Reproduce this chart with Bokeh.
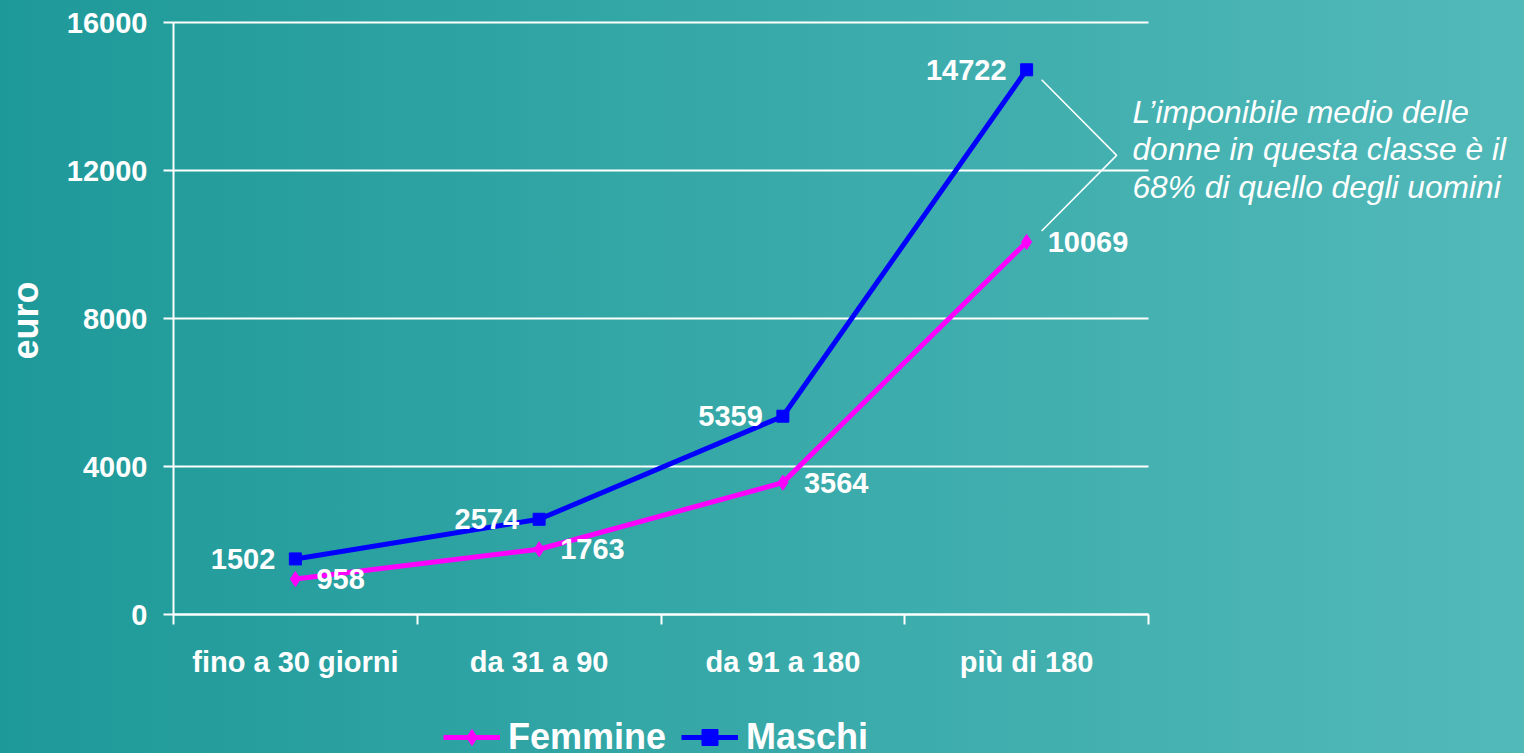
import math
from bokeh.plotting import figure
from bokeh.models import (ColumnDataSource, Range1d, FixedTicker, LabelSet, Label,
                          Legend, LegendItem)
from bokeh.embed import file_html
from bokeh.resources import INLINE
from bokeh.core.properties import value

# ---------------- data ----------------
categories = ["fino a 30 giorni", "da 31 a 90", "da 91 a 180", "più di 180"]
femmine = [958, 1763, 3564, 10069]
maschi = [1502, 2574, 5359, 14722]
y_ticks = [0, 4000, 8000, 12000, 16000]
y_max = 16000
y_title = "euro"
note_lines = ["L\u2019imponibile medio delle",
              "donne in questa classe è il",
              "68% di quello degli uomini"]

FONT = "Liberation Sans"
WHITE = "#ffffff"
BLUE = "#0000ff"
MAGENTA = "#ff00ff"

n = len(categories)
x_pos = [i + 0.5 for i in range(n)]
src = ColumnDataSource(dict(
    x=x_pos, f=femmine, m=maschi,
    fl=[str(v) for v in femmine], ml=[str(v) for v in maschi]))

# plot-area geometry (pixels on the page)
W, H = 1524, 753
L_PX, R_PX, T_PX, B_PX = 173, 1148, 22, 614
px_per_x = (R_PX - L_PX) / n
px_per_y = (B_PX - T_PX) / y_max

# frame covers the whole canvas, so nothing is clipped
x_start = -L_PX / px_per_x
x_end = (W - L_PX) / px_per_x
y_start = -(H - B_PX) / px_per_y
y_end = y_max + T_PX / px_per_y

p = figure(width=W, height=H, x_range=Range1d(x_start, x_end),
           y_range=Range1d(y_start, y_end),
           output_backend="svg", toolbar_location=None, title=None,
           min_border_left=0, min_border_right=0,
           min_border_top=0, min_border_bottom=0)
p.background_fill_alpha = 0
p.border_fill_alpha = 0
p.outline_line_color = None
p.xgrid.visible = False
p.ygrid.visible = False

# ---------------- axes ----------------
xa = p.xaxis[0]
xa.fixed_location = 0
xa.bounds = (0, n)
xa.ticker = FixedTicker(ticks=x_pos, minor_ticks=list(range(n + 1)))
xa.major_label_overrides = {x: c for x, c in zip(x_pos, categories)}
xa.axis_line_color = WHITE
xa.axis_line_width = 2
xa.major_tick_line_color = None
xa.major_tick_out = 0
xa.major_tick_in = 0
xa.minor_tick_line_color = WHITE
xa.minor_tick_line_width = 2
xa.minor_tick_out = 10
xa.minor_tick_in = 0
xa.major_label_standoff = 21
xa.major_label_text_font = FONT
xa.major_label_text_font_style = "bold"
xa.major_label_text_font_size = "29px"
xa.major_label_text_color = WHITE

ya = p.yaxis[0]
ya.fixed_location = 0
ya.bounds = (0, y_max)
ya.ticker = FixedTicker(ticks=y_ticks)
ya.axis_line_color = WHITE
ya.axis_line_width = 2
ya.major_tick_line_color = WHITE
ya.major_tick_line_width = 2
ya.major_tick_out = 10
ya.major_tick_in = 0
ya.minor_tick_line_color = None
ya.major_label_standoff = 16
ya.major_label_text_font = FONT
ya.major_label_text_font_style = "bold"
ya.major_label_text_font_size = "29px"
ya.major_label_text_color = WHITE

# y-axis title (rotated), centred on the plot area
p.add_layout(Label(x=(25 - L_PX) / px_per_x, y=(B_PX - 320) / px_per_y, text=y_title,
                   angle=math.pi / 2, text_align="center", text_baseline="alphabetic",
                   text_font=FONT, text_font_style="bold", text_font_size="36px",
                   text_color=WHITE))

# horizontal gridlines limited to the plot area
p.segment(x0=[0] * len(y_ticks), x1=[n] * len(y_ticks), y0=y_ticks, y1=y_ticks,
          color=WHITE, line_width=2)

# ---------------- series ----------------
lf = p.line("x", "f", source=src, color=MAGENTA, line_width=5)
sf = p.scatter("x", "f", source=src, marker="diamond", size=15, color=MAGENTA)
lm = p.line("x", "m", source=src, color=BLUE, line_width=5)
sm = p.scatter("x", "m", source=src, marker="square", size=12, color=BLUE)

lab_kw = dict(text_font=value(FONT), text_font_style="bold", text_font_size="29px",
              text_color=WHITE, text_baseline="middle")
p.add_layout(LabelSet(x="x", y="f", text="fl", source=src, x_offset=21,
                      text_align="left", **lab_kw))
p.add_layout(LabelSet(x="x", y="m", text="ml", source=src, x_offset=-20,
                      text_align="right", **lab_kw))

# ---------------- annotation ----------------
note_x = n - 16 / px_per_x
for i, t in enumerate(note_lines):
    p.add_layout(Label(x=note_x, y=(B_PX - 111 - 37.5 * i) / px_per_y, text=t,
                       text_font=FONT, text_font_style="italic",
                       text_font_size="31.7px", text_color=WHITE,
                       text_baseline="alphabetic", text_align="left"))

bx_in = x_pos[-1] + 15 / px_per_x
bx_out = x_pos[-1] + 90 / px_per_x
by_top = maschi[-1] - 10 / px_per_y
by_bot = femmine[-1] + 11 / px_per_y
p.line([bx_in, bx_out, bx_in], [by_top, (by_top + by_bot) / 2, by_bot],
       color=WHITE, line_width=1.5)

# ---------------- legend ----------------
legend = Legend(items=[LegendItem(label="Femmine", renderers=[lf, sf]),
                       LegendItem(label="Maschi", renderers=[lm, sm])],
                orientation="horizontal", location=(443, -5),
                glyph_width=57, glyph_height=40, label_height=40,
                label_standoff=8, spacing=15, padding=0, margin=0,
                border_line_color=None, background_fill_alpha=0,
                label_text_font=FONT, label_text_font_style="bold",
                label_text_font_size="36px", label_text_color=WHITE)
p.add_layout(legend, "center")

html = file_html(p, INLINE, title="euro")
css = ("<style>html,body{margin:0;padding:0;overflow:hidden;width:100%;height:100%;"
       "background:linear-gradient(to right,#1e9999,#52b9b9);}</style>")
html = html.replace("</head>", css + "</head>", 1)
open("out.html", "w").write(html)
